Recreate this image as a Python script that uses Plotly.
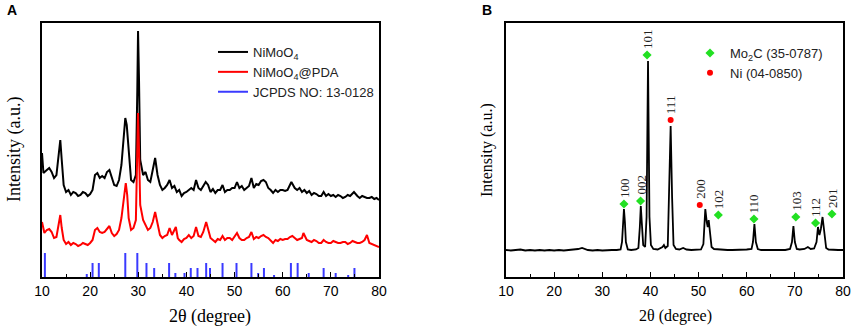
import plotly.graph_objects as go

# ---------------- Panel A data ----------------
a_x = [10, 10.3, 11, 11.5, 12, 12.5, 13, 13.5, 13.8, 14.1, 14.5, 15, 15.5, 16, 16.5, 17, 17.5, 18, 18.5, 19, 19.5,
       20, 20.5, 21, 21.5, 22, 22.5, 23, 23.5, 24, 24.5, 25, 25.5, 26, 26.5, 27, 27.3, 27.6, 28, 28.5, 29, 29.5,
       29.8, 29.95, 30.15, 30.4, 31, 31.5, 32, 32.5, 33, 33.5, 34, 34.5, 35, 35.5, 36, 36.5, 37, 37.5, 38, 38.5,
       39, 39.5, 40, 40.5, 41, 41.5, 42, 42.5, 43, 43.5, 44, 44.5, 45, 45.5, 46, 46.5, 47, 47.5, 48, 48.5, 49,
       49.5, 50, 50.5, 51, 51.5, 52, 52.5, 53, 53.5, 54, 54.5, 55, 55.5, 56, 56.5, 57, 57.5, 58, 58.5, 59, 59.5,
       60, 60.5, 61, 61.8, 62.5, 63, 63.5, 64, 64.5, 65, 65.5, 66, 66.5, 67, 67.5, 68, 68.5, 69, 69.5, 70, 70.5,
       71, 71.5, 72, 72.5, 73, 73.5, 74, 74.8, 75.5, 76, 76.5, 77, 77.5, 78, 78.5, 79, 79.5, 80]
nimoo4 = [124, 104, 107, 109, 105, 99, 102, 122, 137, 117, 92, 85, 87, 82, 85, 84, 81, 82, 85, 84, 81,
          83, 87, 102, 104, 99, 101, 99, 105, 107, 99, 92, 91, 97, 112, 147, 159, 152, 127, 97, 95, 102,
          187, 246, 197, 117, 102, 105, 97, 95, 107, 119, 102, 92, 87, 89, 92, 97, 89, 91, 85, 87,
          81, 84, 85, 87, 89, 87, 97, 89, 87, 91, 95, 92, 85, 88, 84, 87, 87, 92, 85, 87, 87,
          89, 89, 95, 89, 91, 87, 89, 91, 99, 89, 93, 92, 96, 97, 95, 89, 87, 84, 87, 85, 87,
          87, 86, 87, 95, 89, 87, 89, 85, 87, 84, 86, 82, 84, 83, 81, 81, 85, 81, 83, 81, 82,
          80, 82, 81, 79, 80, 82, 81, 85, 81, 79, 81, 80, 79, 79, 80, 78, 79, 77]

b_x = [10, 10.5, 11, 11.5, 12, 12.5, 13, 13.5, 13.8, 14.1, 14.5, 15, 15.5, 16, 16.5, 17, 17.5, 18, 18.5, 19, 19.5,
       20, 20.5, 21, 21.5, 22, 22.5, 23, 23.5, 24, 24.5, 25, 25.5, 26, 26.5, 27, 27.4, 27.7, 28, 28.5, 29, 29.5,
       29.8, 29.95, 30.15, 30.4, 31, 31.5, 32, 32.5, 33, 33.5, 34, 34.5, 35, 35.5, 36, 36.5, 37, 37.8, 38.2, 38.5,
       39, 39.5, 40, 40.5, 41, 41.5, 42, 42.5, 43, 43.5, 44.1, 44.6, 45, 45.5, 46, 46.5, 47, 47.5, 48, 48.5, 49,
       49.5, 50, 50.5, 51, 51.5, 52, 52.5, 53, 53.5, 54, 54.5, 55, 55.5, 56, 56.5, 57, 57.5, 58, 58.5, 59, 59.5,
       60, 60.5, 61, 61.5, 62, 62.5, 63, 63.5, 64, 64.3, 64.7, 65, 65.5, 66, 66.5, 67, 67.5, 68, 68.5, 69, 69.5,
       70, 70.5, 71, 71.5, 72, 72.5, 73, 73.5, 74, 74.5, 75, 75.5, 76, 76.5, 77, 77.5, 78, 78.5, 79, 79.5, 80]
nimoo4_pda = [55, 44, 47, 48, 45, 39, 40, 52, 62, 49, 37, 33, 35, 32, 34, 33, 31, 32, 34, 33, 32,
              34, 37, 47, 49, 45, 44, 45, 48, 51, 44, 41, 43, 47, 59, 82, 94, 82, 59, 47, 49, 57,
              117, 164, 127, 72, 57, 52, 47, 49, 55, 65, 52, 42, 39, 41, 42, 49, 42, 50, 39, 37,
              35, 38, 39, 42, 39, 41, 50, 41, 40, 45, 55, 45, 39, 37, 35, 38, 37, 41, 37, 39, 39,
              37, 40, 44, 39, 37, 37, 39, 40, 45, 38, 40, 39, 41, 42, 40, 39, 36, 34, 37, 36, 38,
              37, 38, 38, 40, 41, 39, 37, 38, 39, 44, 39, 37, 36, 35, 37, 36, 34, 34, 37, 35, 34,
              34, 36, 35, 34, 34, 35, 35, 33, 34, 36, 35, 34, 34, 35, 37, 42, 34, 33, 32, 31, 30]

jcpds_x = [10.6, 19.3, 20.5, 21.8, 27.3, 29.8, 31.7, 33.3, 36.4, 37.7, 39.6, 40.9, 42.3, 44.1, 44.9, 47.5,
           50.4, 53.5, 54.9, 56.1, 58.2, 61.7, 63.1, 65.4, 68.5, 71.0, 73.6, 74.9]
jcpds_h = [24, 3, 14, 14, 24, 24, 14, 9, 14, 4, 4, 9, 9, 14, 9, 14,
           14, 14, 4, 9, 2, 14, 14, 4, 9, 4, 2, 9]

# ---------------- Panel B data ----------------
c_x = [10, 11, 12, 13, 14, 15, 16, 17, 18, 19, 20, 21, 22, 23, 24, 25, 25.8, 26.5, 27, 28, 29, 30, 31, 32, 33,
       33.8, 34.1, 34.3, 34.5, 34.7, 34.9, 35.3, 36, 37, 37.5, 37.8, 38.0, 38.2, 38.5, 38.9, 39.2, 39.5, 39.8,
       40.1, 40.6, 41.5, 42.5, 42.8, 43.1, 43.6, 43.9, 44.2, 44.5, 44.8, 45.3, 46, 46.8, 47.5, 48.5, 49.5, 50.5,
       51, 51.2, 51.4, 51.7, 51.9, 52.1, 52.4, 52.7, 53.2, 54, 55, 56, 57, 58, 59, 60, 61, 61.3, 61.6, 61.9,
       62.3, 63, 64, 65, 66, 67, 68, 69, 69.4, 69.7, 70.0, 70.4, 71, 72, 72.7, 73.3, 74, 74.5, 74.8, 75.1,
       75.4, 75.75, 76.1, 76.5, 77, 78, 79, 80]
mo2c_ni = [27, 26.5, 27, 27.5, 26.5, 27, 26.5, 27, 26.5, 27, 26.5, 27, 26.5, 27, 27, 28, 29, 28, 27, 26.5, 27,
           26.5, 27, 27, 27, 27.5, 35, 55, 68, 55, 35, 27.5, 27, 27.5, 29, 50, 71, 55, 32, 30, 60, 216, 60,
           32, 28, 27.5, 30, 32, 29, 31, 80, 151, 80, 32, 28, 27.5, 29, 27.5, 27, 27, 27.5,
           33, 55, 68, 55, 50, 57, 40, 30, 28, 27.5, 27, 27, 27, 27, 27, 27.5, 28, 35, 53, 35,
           28, 27, 27, 27, 27, 27, 27, 28, 35, 51, 35, 28, 27.5, 28, 30, 28, 28.5, 35, 50, 42,
           48, 60, 42, 29, 27.5, 27, 27, 27]

mo2c_x = [34.5, 37.95, 39.3, 54.1, 61.5, 70.2, 74.3, 77.7]
mo2c_y = [73, 76, 222, 62, 58, 60, 54, 63]
mo2c_lbl = ["100", "002", "101", "102", "110", "103", "112", "201"]
ni_x = [44.2, 50.25]
ni_y = [157, 72]
ni_lbl = ["111", "200"]

x_ticks = [10, 20, 30, 40, 50, 60, 70, 80]

BLACK = "#000000"
RED = "#ff0000"
BLUE = "#3a3aff"
GREEN = "#22e022"

W, H = 854, 330
ML, MR, MT, MB = 42, 11, 23, 53
PW = W - ML - MR


def px_x(p):
    return (p - ML) / PW


fig = go.Figure()

fig.add_trace(go.Scatter(x=a_x, y=nimoo4, mode="lines", line=dict(color=BLACK, width=2),
                         name="NiMoO<sub>4</sub>", xaxis="x", yaxis="y"))
fig.add_trace(go.Scatter(x=b_x, y=nimoo4_pda, mode="lines", line=dict(color=RED, width=2),
                         name="NiMoO<sub>4</sub>@PDA", xaxis="x", yaxis="y"))
sx, sy = [], []
for xv, hv in zip(jcpds_x, jcpds_h):
    sx += [xv, xv, None]
    sy += [0, hv, None]
fig.add_trace(go.Scatter(x=sx, y=sy, mode="lines", line=dict(color=BLUE, width=2),
                         name="JCPDS NO: 13-0128", xaxis="x", yaxis="y"))

fig.add_trace(go.Scatter(x=c_x, y=mo2c_ni, mode="lines", line=dict(color=BLACK, width=1.8),
                         showlegend=False, xaxis="x2", yaxis="y2"))
fig.add_trace(go.Scatter(x=mo2c_x, y=mo2c_y, mode="markers",
                         marker=dict(symbol="diamond", size=7, color=GREEN),
                         name="Mo<sub>2</sub>C (35-0787)", legend="legend2", xaxis="x2", yaxis="y2"))
fig.add_trace(go.Scatter(x=ni_x, y=ni_y, mode="markers",
                         marker=dict(symbol="circle", size=6, color=RED),
                         name="Ni (04-0850)", legend="legend2", xaxis="x2", yaxis="y2"))

ann = []
for xv, yv, t in list(zip(mo2c_x, mo2c_y, mo2c_lbl)) + list(zip(ni_x, ni_y, ni_lbl)):
    ann.append(dict(x=xv, y=yv, xref="x2", yref="y2", text=t, textangle=-90, showarrow=False,
                    xanchor="center", yanchor="bottom", yshift=4,
                    font=dict(family="Liberation Serif", size=13, color="#222")))
# panel letters
ann.append(dict(x=px_x(5), y=1 + 13 / 254, xref="paper", yref="paper", text="<b>A</b>", showarrow=False,
                xanchor="left", yanchor="middle", font=dict(family="Liberation Sans", size=14, color="black")))
ann.append(dict(x=px_x(480), y=1 + 13 / 254, xref="paper", yref="paper", text="<b>B</b>", showarrow=False,
                xanchor="left", yanchor="middle", font=dict(family="Liberation Sans", size=14, color="black")))
# axis titles
ann.append(dict(x=px_x(210), y=-(316 - 277) / 254, xref="paper", yref="paper", text="2θ (degree)",
                showarrow=False, xanchor="center", yanchor="middle",
                font=dict(family="Liberation Serif", size=18, color="black")))
ann.append(dict(x=px_x(675), y=-(316 - 277) / 254, xref="paper", yref="paper", text="2θ (degree)",
                showarrow=False, xanchor="center", yanchor="middle",
                font=dict(family="Liberation Serif", size=16, color="black")))
ann.append(dict(x=px_x(14), y=1 - (150 - 23) / 254, xref="paper", yref="paper", text="Intensity (a.u.)",
                textangle=-90, showarrow=False, xanchor="center", yanchor="middle",
                font=dict(family="Liberation Serif", size=18, color="black")))
ann.append(dict(x=px_x(487), y=1 - (150 - 23) / 254, xref="paper", yref="paper", text="Intensity (a.u.)",
                textangle=-90, showarrow=False, xanchor="center", yanchor="middle",
                font=dict(family="Liberation Serif", size=16, color="black")))

xax_common = dict(range=[10, 80], tickvals=x_ticks, ticks="inside", ticklen=5, tickwidth=1.2, tickcolor="black",
                  minor=dict(dtick=5, tick0=0, ticks="inside", ticklen=3, tickcolor="black"),
                  showline=True, linecolor="black", linewidth=1.5, mirror=True, showgrid=False, zeroline=False,
                  automargin=False, tickfont=dict(family="Liberation Sans", size=14, color="black"))
yax_common = dict(range=[0, 254], showticklabels=False, ticks="", showline=True, linecolor="black",
                  linewidth=1.5, mirror=True, showgrid=False, zeroline=False, automargin=False)

fig.update_layout(
    width=W, height=H, margin=dict(l=ML, r=MR, t=MT, b=MB, autoexpand=False),
    paper_bgcolor="white", plot_bgcolor="white",
    xaxis=dict(domain=[0, px_x(379)], anchor="y", **xax_common),
    yaxis=dict(domain=[0, 1], anchor="x", **yax_common),
    xaxis2=dict(domain=[px_x(506), 1], anchor="y2", **xax_common),
    yaxis2=dict(domain=[0, 1], anchor="x2", **yax_common),
    legend=dict(x=px_x(213), y=1 - (37 - 23) / 254, xanchor="left", yanchor="top", bgcolor="rgba(0,0,0,0)",
                font=dict(family="Liberation Sans", size=13, color="#222"), tracegroupgap=0),
    legend2=dict(x=px_x(690), y=1 - (38 - 23) / 254, xanchor="left", yanchor="top", bgcolor="rgba(0,0,0,0)",
                 font=dict(family="Liberation Sans", size=13, color="#222")),
    annotations=ann,
)

fig.write_html("out.html", config={"displayModeBar": False},
               post_script="document.body.style.margin='0';")
